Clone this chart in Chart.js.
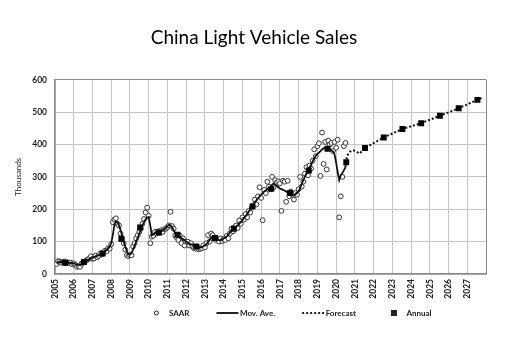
<!DOCTYPE html>
<html>
<head>
<meta charset="utf-8">
<script src="https://cdn.jsdelivr.net/npm/chart.js@4"></script>
<style>
  html, body { margin: 0; padding: 0; background: #fff; }
  #wrap { width: 505px; height: 338px; }
</style>
</head>
<body>
<div id="wrap"><canvas id="myChart"></canvas></div>
<script>
// monthly SAAR, Jan 2005 .. Jun 2020 (thousands)
const saar = [
  31, 40, 38, 35, 37, 39, 33, 36, 34, 35, 30, 33,
  28, 22, 25, 22, 32, 35, 38, 42, 45, 48, 55, 47,
  48, 57, 52, 56, 64, 60, 67, 72, 70, 80, 78, 92,
  160, 168, 172, 155, 150, 125, 110, 95, 75, 58, 55, 58,
  58, 85, 95, 110, 120, 130, 140, 155, 170, 190, 205, 180,
  95, 115, 118, 130, 125, 132, 128, 135, 130, 138, 140, 145,
  150, 192, 148, 140, 118, 112, 105, 118, 95, 110, 88, 100,
  100, 88, 95, 85, 80, 78, 84, 76, 78, 80, 88, 82,
  95, 120, 100, 125, 120, 110, 105, 108, 100, 110, 102, 108,
  105, 118, 110, 125, 140, 132, 145, 150, 142, 165, 155, 175,
  168, 185, 175, 195, 190, 205, 212, 230, 215, 240, 268, 235,
  166, 260, 250, 285, 270, 262, 300, 268, 290, 282, 286, 280,
  195, 288, 285, 223, 288, 240, 255, 245, 230, 250, 245, 262,
  300, 270, 285, 310, 330, 305, 335, 325, 350, 385, 364, 395,
  404, 303, 437, 340, 408, 323, 412, 400, 405, 380, 408, 390,
  415, 175, 240, 300, 395, 405
];

// moving average, same months
const movAve = [
  34, 36, 37, 37, 36, 36, 35, 35, 35, 34, 34, 33,
  31, 29, 28, 28, 30, 33, 37, 40, 43, 46, 48, 50,
  52, 54, 56, 58, 60, 63, 66, 70, 74, 78, 84, 95,
  120, 150, 162, 160, 150, 135, 118, 100, 84, 70, 62, 60,
  65, 75, 88, 100, 112, 125, 138, 150, 160, 168, 174, 176,
  150, 120, 122, 126, 128, 130, 130, 132, 135, 138, 142, 148,
  152, 150, 145, 135, 125, 120, 118, 115, 110, 108, 104, 100,
  97, 94, 92, 90, 88, 86, 84, 83, 82, 83, 85, 88,
  92, 98, 105, 112, 115, 113, 110, 107, 105, 104, 106, 110,
  112, 116, 122, 128, 133, 138, 142, 146, 150, 155, 160, 166,
  172, 178, 185, 192, 200, 208, 215, 222, 228, 234, 240, 245,
  250, 255, 258, 262, 266, 270, 275, 280, 276, 272, 268, 264,
  262, 260, 258, 255, 252, 250, 248, 246, 244, 246, 250, 256,
  265, 278, 290, 300, 310, 318, 328, 338, 348, 358, 365, 370,
  375, 380, 385, 388, 390, 390, 388, 386, 382, 378, 370, 345,
  315, 290, 305, 312, 320, 330
];

const forecastX = [2020.5, 2020.58, 2020.75, 2020.92, 2021.08, 2021.25, 2021.54,
  2022.54, 2023.54, 2024.54, 2025.54, 2026.54, 2027.54, 2027.83];
const forecastY = [330, 365, 378, 382, 378, 372, 389, 422, 448, 466, 489, 512, 538, 545];

const annualYears = [2005, 2006, 2007, 2008, 2009, 2010, 2011, 2012, 2013, 2014, 2015, 2016,
  2017, 2018, 2019, 2020, 2021, 2022, 2023, 2024, 2025, 2026, 2027];
const annualSales = [35, 37, 63, 109, 144, 128, 121, 85, 111, 140, 209, 263,
  250, 320, 387, 345, 389, 422, 448, 466, 489, 512, 538];

const yTicks = [0, 100, 200, 300, 400, 500, 600];

// month i is plotted at the end of that month
const monthX = (i) => 2005 + (i + 1) / 12;

const saarPts = saar.map((v, i) => ({ x: monthX(i), y: v }));
const movPts = movAve.map((v, i) => ({ x: monthX(i), y: v }));
const forecastPts = forecastX.map((x, i) => ({ x: x, y: forecastY[i] }));
const annualPts = annualYears.map((yr, i) => ({ x: yr + 6.5 / 12, y: annualSales[i] }));

const tickFont = { family: "Lato", size: 8.5, weight: "bold" };

// legend drawn by hand so spacing matches the original
const legendItems = [
  { text: "SAAR", kind: "circle" },
  { text: "Mov. Ave.", kind: "line" },
  { text: "Forecast", kind: "dots" },
  { text: "Annual", kind: "square" },
];
const legendPlugin = {
  id: "bottomLegend",
  afterLayout(chart) {
    // title sits a little right of the canvas centre in the original
    chart.titleBlock.left += 11;
    chart.titleBlock.right += 11;
  },
  afterDraw(chart) {
    const c = chart.ctx;
    c.save();
    c.font = "bold 8px Lato";
    c.textBaseline = "middle";
    c.fillStyle = "#222";
    const y = 313;
    let total = 0;
    legendItems.forEach((it, i) => {
      total += 20.5 + c.measureText(it.text).width + (i < legendItems.length - 1 ? 30 : 0);
    });
    let x = 290 - total / 2;
    legendItems.forEach((it) => {
      const cx = x + 8;
      c.strokeStyle = "#222";
      c.fillStyle = "#222";
      if (it.kind === "circle") {
        c.lineWidth = 1;
        c.beginPath();
        c.arc(cx, y, 2, 0, Math.PI * 2);
        c.stroke();
      } else if (it.kind === "line" || it.kind === "dots") {
        c.lineWidth = 2;
        c.setLineDash(it.kind === "dots" ? [2, 2] : []);
        c.beginPath();
        c.moveTo(cx - 11, y);
        c.lineTo(cx + 11, y);
        c.stroke();
        c.setLineDash([]);
      } else {
        c.fillRect(cx - 3, y - 3, 6, 6);
      }
      c.fillText(it.text, x + 20.5, y);
      x += 20.5 + c.measureText(it.text).width + 30;
    });
    c.restore();
  },
};

new Chart(document.getElementById("myChart"), {
  type: "scatter",
  data: {
    datasets: [
      {
        label: "Annual",
        data: annualPts,
        showLine: false,
        pointStyle: "rect",
        pointRadius: 4.2,
        pointBackgroundColor: "#000",
        pointBorderWidth: 0,
        order: 0,
      },
      {
        label: "Mov. Ave.",
        data: movPts,
        showLine: true,
        borderColor: "#111",
        borderWidth: 1.8,
        pointRadius: 0,
        order: 1,
      },
      {
        label: "Forecast",
        data: forecastPts,
        showLine: true,
        borderColor: "#111",
        borderWidth: 2,
        borderDash: [2, 2],
        pointRadius: 0,
        order: 2,
      },
      {
        label: "SAAR",
        data: saarPts,
        showLine: false,
        pointRadius: 2.4,
        pointBorderWidth: 1,
        pointBorderColor: "#333",
        pointBackgroundColor: "#fff",
        order: 3,
      },
    ],
  },
  options: {
    responsive: true,
    maintainAspectRatio: false,
    animation: false,
    devicePixelRatio: 1,
    layout: { padding: { left: 0, right: 19, top: 0, bottom: 0 } },
    scales: {
      x: {
        type: "linear",
        min: 2005,
        max: 2028,
        afterFit: (s) => { s.height = 64; },
        grid: {
          color: (ctx) => (ctx.tick && ctx.tick.value === 2028 ? "#888" : "#c4c4c4"),
          drawTicks: false,
        },
        border: { color: "#888", width: 1.5 },
        ticks: {
          stepSize: 1,
          autoSkip: false,
          maxRotation: 90,
          minRotation: 90,
          padding: 5,
          color: "#222",
          font: tickFont,
          callback: (v) => (v === 2028 ? "" : String(v)),
        },
      },
      y: {
        min: 0,
        max: 600,
        afterFit: (s) => { s.width = 55; },
        afterBuildTicks: (s) => { s.ticks = yTicks.map((v) => ({ value: v })); },
        grid: {
          color: (ctx) => (ctx.tick && ctx.tick.value === 600 ? "#888" : "#c4c4c4"),
          drawTicks: false,
        },
        border: { color: "#888", width: 1.5 },
        ticks: { padding: 8, color: "#222", font: tickFont },
        title: {
          display: true,
          text: "Thousands",
          color: "#222",
          font: { family: "Lato", size: 8 },
          padding: { top: 14, bottom: 0 },
        },
      },
    },
    plugins: {
      legend: { display: false },
      tooltip: { enabled: false },
      title: {
        display: true,
        text: "China Light Vehicle Sales",
        color: "#000",
        font: { family: "Lato", size: 19, weight: "normal" },
        padding: { top: 26, bottom: 31 },
      },
    },
  },
  plugins: [legendPlugin],
});
</script>
</body>
</html>
